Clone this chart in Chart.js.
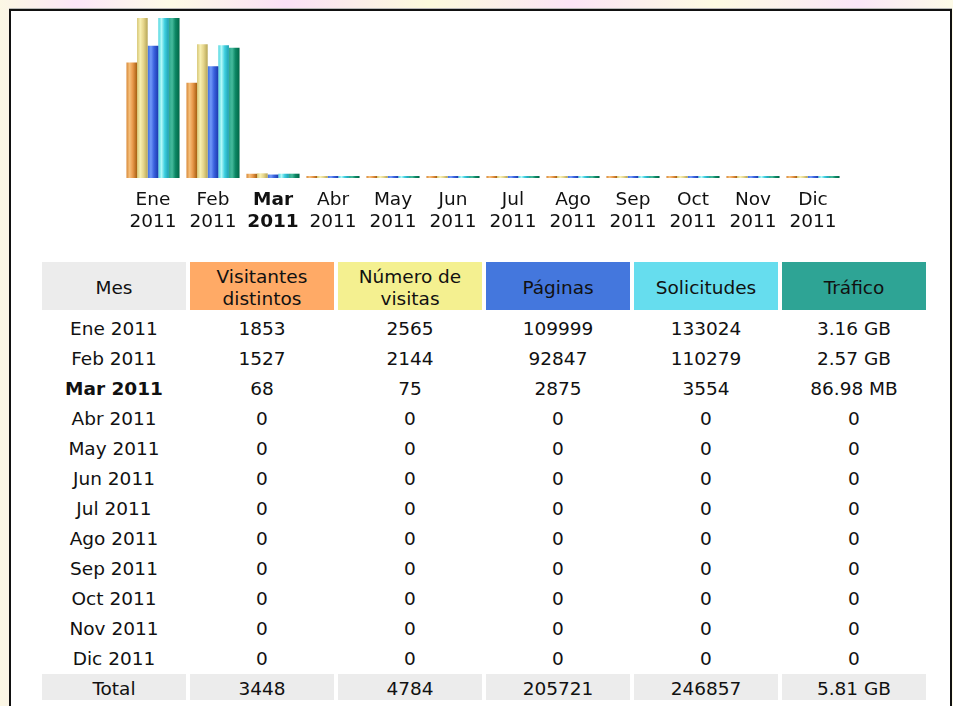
<!DOCTYPE html>
<html>
<head>
<meta charset="utf-8">
<script src="https://cdn.jsdelivr.net/npm/chart.js@4"></script>
<style>
  html, body { margin: 0; padding: 0; }
  body {
    width: 953px; height: 706px; overflow: hidden; position: relative;
    background:
      linear-gradient(90deg, #fbf7e4 0%, #fbe6f8 8%, #fdfbe6 18%, #fae0f6 30%, #fcfadc 45%, #fbe4f6 60%, #fdfbe2 75%, #fae6f8 90%, #fdfbe8 100%);
    font-family: "DejaVu Sans", Verdana, sans-serif;
  }
  .frame {
    position: absolute; left: 9px; top: 9px; width: 939px; height: 720px;
    background: #fff; border: 2px solid #111; border-bottom: none;
    box-shadow: 0 -1px 0 #b8b8b8;
  }
  .chart-box { position: absolute; left: 112px; top: 12px; width: 740px; height: 230px; }
  table.stats {
    position: absolute; left: 38px; top: 258px;
    border-collapse: separate; border-spacing: 4px;
    font-size: 18.5px; color: #111;
  }
  table.stats th, table.stats td {
    width: 144px; padding: 3px 0 0 0; text-align: center; line-height: 22px; font-weight: normal;
  }
  table.stats th { height: 45px; }
  table.stats td { height: 23px; }
  table.stats .grey { background: #ececec; }
  .bold { font-weight: bold !important; }
</style>
</head>
<body>
<div class="frame"></div>
<div class="chart-box"><canvas id="chart"></canvas></div>
<table class="stats" id="stats"></table>
<script>
const months = ['Ene', 'Feb', 'Mar', 'Abr', 'May', 'Jun', 'Jul', 'Ago', 'Sep', 'Oct', 'Nov', 'Dic'];
const year = '2011';
const currentMonth = 2;

const visitors = [1853, 1527, 68, 0, 0, 0, 0, 0, 0, 0, 0, 0];
const visits = [2565, 2144, 75, 0, 0, 0, 0, 0, 0, 0, 0, 0];
const pages = [109999, 92847, 2875, 0, 0, 0, 0, 0, 0, 0, 0, 0];
const hits = [133024, 110279, 3554, 0, 0, 0, 0, 0, 0, 0, 0, 0];
// traffic in MB
const bandwidth = [3235.84, 2631.68, 86.98, 0, 0, 0, 0, 0, 0, 0, 0, 0];

const headers = ['Mes', 'Visitantes<br>distintos', 'Número de<br>visitas', 'Páginas', 'Solicitudes', 'Tráfico'];
const headerColors = ['#ececec', '#ffaa66', '#f4f090', '#4477dd', '#66ddee', '#2ea495'];

// bar shading, left to right
const shades = [
  ['#d88a3a', '#f6bf7a', '#e8984a', '#a65e10'],
  ['#d6c674', '#f8f0b2', '#e6d68c', '#b6a656'],
  ['#3e6ee0', '#7098f8', '#3a62de', '#1a3aae'],
  ['#4ed6e0', '#b2f8f8', '#3ecfe0', '#1e9eae'],
  ['#2ea88e', '#44ba9c', '#0e8866', '#006646'],
];

function formatSize(mb) {
  if (mb === 0) return '0';
  if (mb >= 1024) return (mb / 1024).toFixed(2) + ' GB';
  return mb.toFixed(2) + ' MB';
}
const sum = (arr) => arr.reduce((a, b) => a + b, 0);

const shadePlugin = {
  id: 'shade',
  beforeDatasetsDraw(chart) {
    const ctx = chart.ctx;
    chart.data.datasets.forEach((ds, i) => {
      chart.getDatasetMeta(i).data.forEach((el) => {
        const g = ctx.createLinearGradient(el.x - el.width / 2, 0, el.x + el.width / 2, 0);
        const s = shades[i];
        g.addColorStop(0, s[0]);
        g.addColorStop(0.3, s[1]);
        g.addColorStop(0.6, s[2]);
        g.addColorStop(1, s[3]);
        el.options = Object.assign({}, el.options, { backgroundColor: g });
      });
    });
  },
};

const tickFont = (c) => ({
  family: '"DejaVu Sans", Verdana, sans-serif',
  size: 18.5,
  lineHeight: 1.19,
  weight: c.index === currentMonth ? 'bold' : 'normal',
});

new Chart(document.getElementById('chart'), {
  type: 'bar',
  data: {
    labels: months.map((m) => [m, year]),
    datasets: [
      { label: 'Visitantes distintos', data: visitors, yAxisID: 'yVisits' },
      { label: 'Número de visitas', data: visits, yAxisID: 'yVisits' },
      { label: 'Páginas', data: pages, yAxisID: 'yHits' },
      { label: 'Solicitudes', data: hits, yAxisID: 'yHits' },
      { label: 'Tráfico', data: bandwidth, yAxisID: 'yBw' },
    ],
  },
  options: {
    responsive: true,
    maintainAspectRatio: false,
    animation: false,
    layout: { padding: { left: 11, right: 9, top: 6, bottom: 0 } },
    datasets: {
      bar: { categoryPercentage: 0.885, barPercentage: 1, borderWidth: 0, minBarLength: 2 },
    },
    plugins: { legend: { display: false }, tooltip: { enabled: false } },
    scales: {
      x: {
        grid: { display: false, drawTicks: false },
        border: { display: false },
        ticks: { color: '#111', padding: 11, maxRotation: 0, autoSkip: false, font: tickFont },
        afterFit(scale) { scale.height = 64; },
      },
      yVisits: { display: false, min: 0, max: Math.max(...visitors, ...visits) },
      yHits: { display: false, min: 0, max: Math.max(...pages, ...hits) },
      yBw: { display: false, min: 0, max: Math.max(...bandwidth) },
    },
  },
  plugins: [shadePlugin],
});

// table under the chart
const table = document.getElementById('stats');
let html = '<tr>' + headers.map((h, i) => '<th style="background:' + headerColors[i] + '">' + h + '</th>').join('') + '</tr>';
months.forEach((m, i) => {
  const cls = i === currentMonth ? ' class="bold"' : '';
  html += '<tr><td' + cls + '>' + m + ' ' + year + '</td><td>' + visitors[i] + '</td><td>' + visits[i] +
    '</td><td>' + pages[i] + '</td><td>' + hits[i] + '</td><td>' + formatSize(bandwidth[i]) + '</td></tr>';
});
html += '<tr><td class="grey">Total</td><td class="grey">' + sum(visitors) + '</td><td class="grey">' + sum(visits) +
  '</td><td class="grey">' + sum(pages) + '</td><td class="grey">' + sum(hits) + '</td><td class="grey">' +
  formatSize(sum(bandwidth)) + '</td></tr>';
table.innerHTML = html;
</script>
</body>
</html>
